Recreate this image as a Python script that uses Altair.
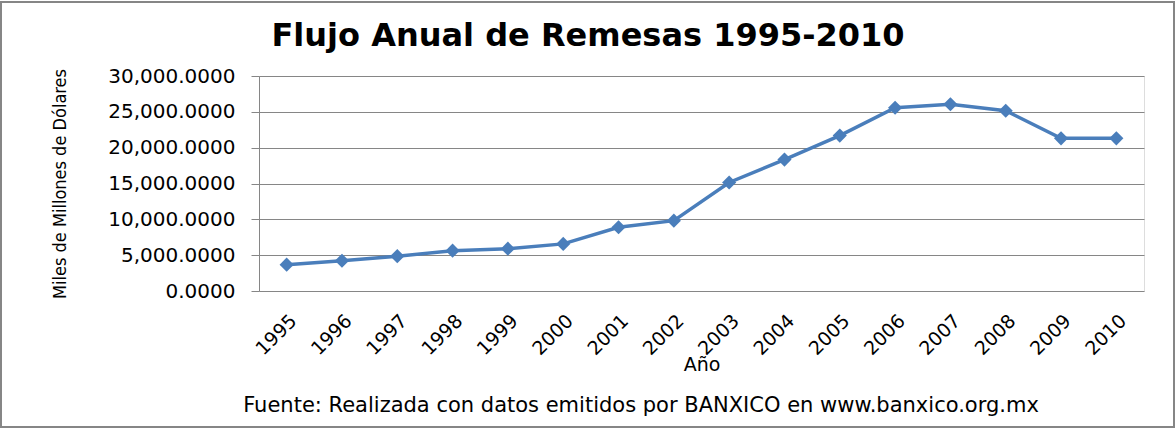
import altair as alt
import pandas as pd

years = ["1995", "1996", "1997", "1998", "1999", "2000", "2001", "2002",
         "2003", "2004", "2005", "2006", "2007", "2008", "2009", "2010"]
remesas = [3673, 4224, 4865, 5627, 5910, 6573, 8895, 9814,
           15139, 18332, 21688, 25567, 26059, 25145, 21306, 21304]

df = pd.DataFrame({"Año": years, "Remesas": remesas})

TITLE = "Flujo Anual de Remesas 1995-2010"
FOOTER = "Fuente: Realizada con datos emitidos por BANXICO en www.banxico.org.mx"

W, H = 885, 215
PL, PT = 259, 76

x = alt.X("Año:N", sort=years, title="Año",
          scale=alt.Scale(paddingInner=0, paddingOuter=0.5),
          axis=alt.Axis(labelAngle=-45, labelFontSize=19, labelFont="DejaVu Sans",
                        labelColor="#000000", ticks=False, domain=False, grid=False,
                        labelPadding=20, titleFontSize=19, titleFont="DejaVu Sans",
                        titleFontWeight="normal", titleColor="#000000", titlePadding=-3))
y = alt.Y("Remesas:Q", title="Miles de Millones de Dólares",
          scale=alt.Scale(domain=[0, 30000], nice=False),
          axis=alt.Axis(values=[0, 5000, 10000, 15000, 20000, 25000, 30000],
                        format=",.4f", labelFontSize=20, labelFont="DejaVu Sans",
                        labelColor="#000000", tickSize=8, tickColor="#868686",
                        domainColor="#868686", gridColor="#868686", gridWidth=1,
                        labelPadding=16,
                        titleFont="DejaVu Sans Condensed, Liberation Sans Narrow, Roboto, sans-serif",
                        titleFontSize=18, titleFontWeight="normal",
                        titleColor="#000000", titlePadding=38))

line = alt.Chart(df).mark_line(color="#4A7EBB", strokeWidth=3.5,
                               point=alt.OverlayMarkDef(shape="diamond", size=200,
                                                        color="#4A7EBB", filled=True)).encode(x=x, y=y)

title = alt.Chart(pd.DataFrame({"t": [TITLE]})).mark_text(
    font="DejaVu Sans", fontSize=32, fontWeight="bold",
    color="#000000", align="center", baseline="alphabetic").encode(
    text="t:N", x=alt.value(588 - PL), y=alt.value(46 - PT))

footer = alt.Chart(pd.DataFrame({"t": [FOOTER]})).mark_text(
    font="DejaVu Sans", fontSize=21, fontWeight="normal",
    color="#000000", align="center", baseline="alphabetic").encode(
    text="t:N", x=alt.value(641 - PL), y=alt.value(412 - PT))

border = alt.Chart(pd.DataFrame({"t": [0]})).mark_rect(
    filled=False, stroke="#868686", strokeWidth=2).encode(
    x=alt.value(1 - PL), x2=alt.value(1174 - PL), y=alt.value(2 - PT), y2=alt.value(427 - PT))

chart = alt.layer(border, line, title, footer).properties(
    width=W, height=H,
    autosize=alt.AutoSizeParams(type="none"),
    padding={"left": PL, "top": PT, "right": 1176 - PL - W, "bottom": 429 - PT - H},
).configure_view(stroke=None).configure(background="#FFFFFF")

chart.save("out.html", embed_options={"renderer": "svg", "actions": False})
